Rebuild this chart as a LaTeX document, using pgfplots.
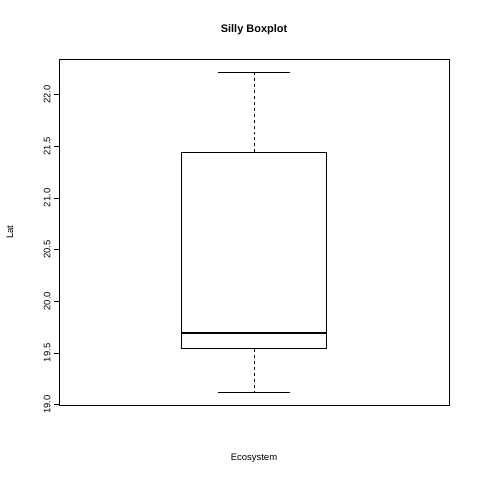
\documentclass[border=0pt]{standalone}
\usepackage{pgfplots}
\pgfplotsset{compat=1.18}
\usepackage{fontspec}
\setmainfont{Liberation Sans}
\begin{document}
\begin{tikzpicture}
\begin{axis}[at={(0,0)},anchor=south west,scale only axis,width=390bp,height=346bp,
 xmin=0.46,xmax=1.54,ymin=18.996,ymax=22.344,
 xtick=\empty, ytick={19,19.5,20,20.5,21,21.5,22}, ytick pos=left,
 yticklabel style={rotate=90,anchor=south,font=\fontsize{9.5}{10}\selectfont,/pgf/number format/fixed,/pgf/number format/fixed zerofill,/pgf/number format/precision=1},
 /pgf/number format/assume math mode=true,
 tick align=outside, major tick length=5bp, tick style={black,line width=0.6pt},
 axis line style={line width=0.6pt},
 title={\bfseries Silly Boxplot}, title style={font=\fontsize{11}{12}\selectfont,at={(0.5,1)},anchor=south,yshift=15bp},
 xlabel={Ecosystem}, xlabel style={font=\fontsize{9.5}{10}\selectfont,at={(0.5,0)},anchor=north,yshift=-45bp},
 clip=false]
\addplot[black,line width=0.6pt] coordinates {(0.8,19.54) (1.2,19.54) (1.2,21.44) (0.8,21.44) (0.8,19.54)};
\addplot[black,line width=2.2pt] coordinates {(0.8,19.69) (1.2,19.69)};
\addplot[black,line width=0.6pt,dashed] coordinates {(1,21.44) (1,22.22)};
\addplot[black,line width=0.6pt,dashed] coordinates {(1,19.54) (1,19.12)};
\addplot[black,line width=0.6pt] coordinates {(0.9,22.22) (1.1,22.22)};
\addplot[black,line width=0.6pt] coordinates {(0.9,19.12) (1.1,19.12)};
\end{axis}
\node[rotate=90,font=\fontsize{9.5}{10}\selectfont] at (-49bp,173bp) {Lat};
\useasboundingbox (-59bp,-75bp) rectangle (421bp,405bp);
\end{tikzpicture}
\end{document}
